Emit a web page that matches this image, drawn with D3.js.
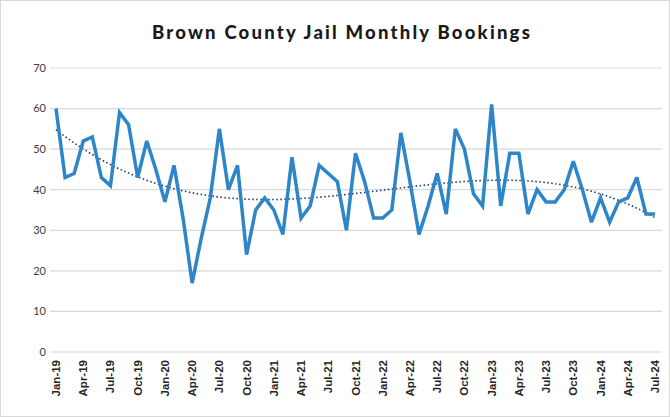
<!DOCTYPE html>
<html><head><meta charset="utf-8">
<script src="https://cdn.jsdelivr.net/npm/d3@7"></script>
<style>body{margin:0;background:#fff;} svg{display:block;}</style>
</head><body>
<svg id="chart" width="670" height="417"></svg>
<script>
const title = "Brown County Jail Monthly Bookings";
const months = ["Jan","Feb","Mar","Apr","May","Jun","Jul","Aug","Sep","Oct","Nov","Dec"];
const years = ["19","20","21","22","23","24"];
const bookings = [
  60,43,44,52,53,43,41,59,56,43,52,45,
  37,46,33,17,28,38,55,40,46,24,35,38,
  35,29,48,33,36,46,44,42,30,49,42,33,
  33,35,54,42,29,36,44,34,55,50,39,36,
  61,36,49,49,34,40,37,37,40,47,40,32,
  38,32,37,38,43,34,34
];
const yTicks = [0,10,20,30,40,50,60,70];
const categories = [];
years.forEach(y => months.forEach(m => categories.push(m + "-" + y)));
categories.length = bookings.length;
const tickLabels = categories.filter((c,i) => i % 3 === 0);

const svg = d3.select("#chart");
svg.append("rect").attr("x",0.5).attr("y",0.5).attr("width",669).attr("height",416)
  .attr("fill","#fff").attr("stroke","#d9d9d9");

const x = d3.scalePoint().domain(categories).range([56, 655]);
const y = d3.scaleLinear().domain([0,70]).range([352, 68]);

// gridlines
svg.append("g").selectAll("line").data(yTicks).join("line")
  .attr("x1", 50).attr("x2", 662)
  .attr("y1", d => y(d)).attr("y2", d => y(d))
  .attr("stroke", "#d9d9d9").attr("stroke-width", 1.2);

// y labels
svg.append("g").selectAll("text").data(yTicks).join("text")
  .attr("x", 46).attr("y", d => y(d)).attr("dy","0.35em")
  .attr("text-anchor","end")
  .attr("font-family","Lato, 'DejaVu Sans', sans-serif").attr("font-size", 11)
  .attr("fill","#404040").text(d => d);

// x labels
svg.append("g").selectAll("text").data(tickLabels).join("text")
  .attr("transform", d => `translate(${x(d)+4},360) rotate(-90)`)
  .attr("text-anchor","end")
  .attr("font-family","'Liberation Sans', Arial, sans-serif").attr("font-weight","bold")
  .attr("font-size", 11.5).attr("fill","#262626").text(d => d);

// polynomial trendline (least squares, order 4) computed from the data
function polyFit(xs, ys, deg){
  const n = deg+1;
  const A = Array.from({length:n},()=>new Array(n+1).fill(0));
  xs.forEach((xv,k)=>{
    for(let i=0;i<n;i++){
      for(let j=0;j<n;j++) A[i][j]+=Math.pow(xv,i+j);
      A[i][n]+=ys[k]*Math.pow(xv,i);
    }
  });
  for(let i=0;i<n;i++){
    let p=i; for(let r=i+1;r<n;r++) if(Math.abs(A[r][i])>Math.abs(A[p][i])) p=r;
    [A[i],A[p]]=[A[p],A[i]];
    for(let r=0;r<n;r++){ if(r===i) continue; const f=A[r][i]/A[i][i];
      for(let c=i;c<=n;c++) A[r][c]-=f*A[i][c]; }
  }
  return A.map((row,i)=>row[n]/row[i]);
}
const N = bookings.length;
const xs = bookings.map((d,i)=> i/(N-1));
const coef = polyFit(xs, bookings, 4);
const trend = xs.map(t => coef.reduce((s,c,i)=> s + c*Math.pow(t,i), 0));

svg.append("path").datum(trend)
  .attr("fill","none").attr("stroke","#1f3864").attr("stroke-width",1.6)
  .attr("stroke-dasharray","1.5,2.5")
  .attr("d", d3.line().x((d,i)=>x(categories[i])).y(d=>y(d)).curve(d3.curveMonotoneX));

svg.append("path").datum(bookings)
  .attr("fill","none").attr("stroke","#2e86c9").attr("stroke-width",3.5)
  .attr("stroke-linejoin","miter").attr("stroke-miterlimit",3)
  .attr("d", d3.line().x((d,i)=>x(categories[i])).y(d=>y(d)));

svg.append("text").attr("x", 342).attr("y", 39).attr("text-anchor","middle")
  .attr("font-family","Lato, 'DejaVu Sans', sans-serif").attr("font-weight","900")
  .attr("font-size", 18.5).attr("letter-spacing", 2.2).attr("fill","#1a1a1a").text(title);
</script>
</body></html>
